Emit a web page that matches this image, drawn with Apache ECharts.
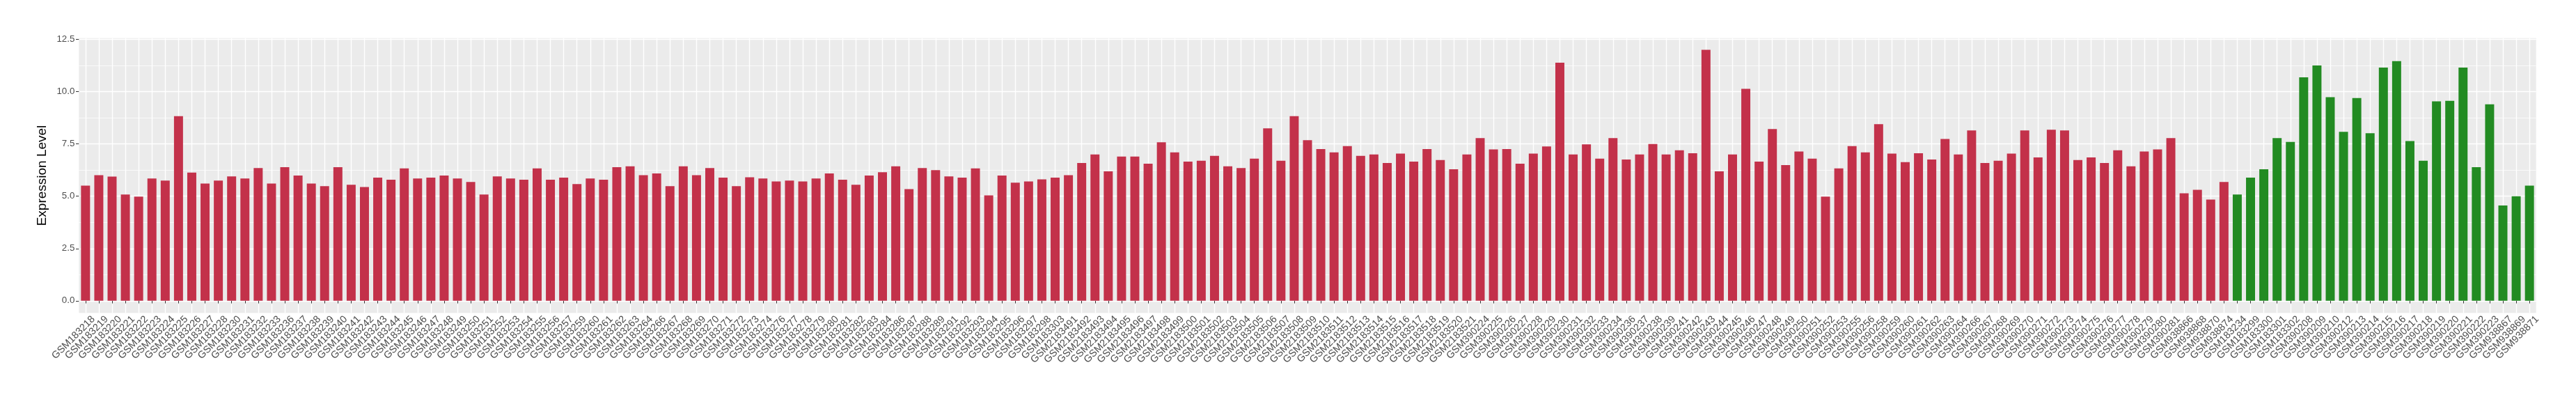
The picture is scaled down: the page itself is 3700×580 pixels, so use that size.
<!DOCTYPE html>
<html>
<head>
<meta charset="utf-8">
<script src="https://cdn.jsdelivr.net/npm/echarts@6/dist/echarts.min.js"></script>
<style>
html,body{margin:0;padding:0;background:#fff;}
#chart{width:3700px;height:580px;}
</style>
</head>
<body>
<div id="chart"></div>
<script>
const redSamples = [
 'GSM183218','GSM183219','GSM183220','GSM183221','GSM183222','GSM183223','GSM183224','GSM183225','GSM183226','GSM183227',
 'GSM183228','GSM183230','GSM183231','GSM183232','GSM183233','GSM183236','GSM183237','GSM183238','GSM183239','GSM183240',
 'GSM183241','GSM183242','GSM183243','GSM183244','GSM183245','GSM183246','GSM183247','GSM183248','GSM183249','GSM183250',
 'GSM183251','GSM183252','GSM183253','GSM183254','GSM183255','GSM183256','GSM183257','GSM183259','GSM183260','GSM183261',
 'GSM183262','GSM183263','GSM183264','GSM183266','GSM183267','GSM183268','GSM183269','GSM183270','GSM183271','GSM183272',
 'GSM183273','GSM183274','GSM183276','GSM183277','GSM183278','GSM183279','GSM183280','GSM183281','GSM183282','GSM183283',
 'GSM183284','GSM183286','GSM183287','GSM183288','GSM183289','GSM183291','GSM183292','GSM183293','GSM183294','GSM183295',
 'GSM183296','GSM183297','GSM183298','GSM183303','GSM2183491','GSM2183492','GSM2183493','GSM2183494','GSM2183495','GSM2183496',
 'GSM2183497','GSM2183498','GSM2183499','GSM2183500','GSM2183501','GSM2183502','GSM2183503','GSM2183504','GSM2183505','GSM2183506',
 'GSM2183507','GSM2183508','GSM2183509','GSM2183510','GSM2183511','GSM2183512','GSM2183513','GSM2183514','GSM2183515','GSM2183516',
 'GSM2183517','GSM2183518','GSM2183519','GSM2183520','GSM2183521','GSM390224','GSM390225','GSM390226','GSM390227','GSM390228',
 'GSM390229','GSM390230','GSM390231','GSM390232','GSM390233','GSM390234','GSM390236','GSM390237','GSM390238','GSM390239',
 'GSM390241','GSM390242','GSM390243','GSM390244','GSM390245','GSM390246','GSM390247','GSM390248','GSM390249','GSM390250',
 'GSM390251','GSM390252','GSM390253','GSM390255','GSM390256','GSM390258','GSM390259','GSM390260','GSM390261','GSM390262',
 'GSM390263','GSM390264','GSM390266','GSM390267','GSM390268','GSM390269','GSM390270','GSM390271','GSM390272','GSM390273',
 'GSM390274','GSM390275','GSM390276','GSM390277','GSM390278','GSM390279','GSM390280','GSM390281','GSM938866','GSM938868',
 'GSM938870','GSM938874'
];
const redValues = [
 5.51,6.01,5.94,5.08,4.98,5.85,5.75,8.83,6.13,5.61,
 5.75,5.95,5.85,6.35,5.61,6.39,5.99,5.61,5.48,6.39,
 5.55,5.44,5.89,5.79,6.33,5.85,5.89,5.99,5.85,5.68,
 5.08,5.95,5.85,5.79,6.33,5.79,5.89,5.58,5.85,5.79,
 6.39,6.43,6.01,6.09,5.48,6.43,6.01,6.35,5.89,5.48,
 5.91,5.85,5.71,5.75,5.71,5.85,6.09,5.79,5.55,5.99,
 6.15,6.43,5.34,6.35,6.25,5.95,5.89,6.33,5.04,5.99,
 5.65,5.71,5.81,5.89,6.01,6.59,7.00,6.19,6.90,6.90,
 6.56,7.58,7.10,6.66,6.70,6.93,6.43,6.35,6.80,8.25,
 6.70,8.83,7.68,7.26,7.10,7.40,6.93,7.00,6.59,7.04,
 6.66,7.26,6.73,6.29,7.00,7.78,7.24,7.26,6.56,7.04,
 7.38,11.39,7.00,7.48,6.80,7.78,6.76,7.00,7.50,7.00,
 7.20,7.06,12.00,6.19,7.00,10.14,6.66,8.21,6.49,7.14,
 6.80,4.98,6.33,7.40,7.10,8.45,7.04,6.63,7.06,6.76,
 7.74,7.00,8.15,6.59,6.70,7.04,8.15,6.86,8.18,8.15,
 6.73,6.86,6.59,7.20,6.43,7.14,7.24,7.78,5.14,5.31,
 4.84,5.68
];
const greenSamples = [
 'GSM183234','GSM183299','GSM183300','GSM183301','GSM183302','GSM390208','GSM390209','GSM390210','GSM390212','GSM390213',
 'GSM390214','GSM390215','GSM390216','GSM390217','GSM390218','GSM390219','GSM390220','GSM390221','GSM390222','GSM390223',
 'GSM938867','GSM938869','GSM938871'
];
const greenValues = [
 5.08,5.89,6.29,7.78,7.60,10.69,11.25,9.74,8.08,9.70,
 8.01,11.15,11.46,7.64,6.70,9.54,9.56,11.15,6.39,9.40,
 4.56,5.00,5.51
];
const yTicks = [0, 2.5, 5, 7.5, 10, 12.5];
const yMinorTicks = [1.25, 3.75, 6.25, 8.75, 11.25];
const yTitle = 'Expression Level';

const categories = redSamples.concat(greenSamples);
const redData = redValues.concat(greenSamples.map(() => '-'));
const greenData = redSamples.map(() => '-').concat(greenValues);

const FONT = "'Liberation Sans', Arial, Helvetica, sans-serif";
const Y_MIN = -0.58, Y_MAX = 12.56;
const gridBase = {left: 113.3, top: 54.8, width: 3529.4, height: 394.4};

const chart = echarts.init(document.getElementById('chart'), null, {renderer: 'canvas'});
chart.setOption({
  animation: false,
  backgroundColor: '#ffffff',
  grid: [
    Object.assign({show: true, backgroundColor: '#EBEBEB', borderWidth: 0, containLabel: false}, gridBase),
    Object.assign({show: false, containLabel: false}, gridBase, {left: gridBase.left + 6.3})
  ],
  xAxis: [
    {
      type: 'category', gridIndex: 0, data: categories, boundaryGap: true,
      axisLine: {show: false},
      axisTick: {show: true, alignWithLabel: true, length: 3.8, lineStyle: {color: '#333333', width: 1}},
      axisLabel: {show: false, interval: 0},
      splitLine: {show: true, alignWithLabel: true, interval: 0, lineStyle: {color: '#ffffff', width: 1.4}}
    },
    {
      type: 'category', gridIndex: 1, data: categories, boundaryGap: true,
      axisLine: {show: false}, axisTick: {show: false}, splitLine: {show: false},
      axisLabel: {
        show: true, interval: 0, rotate: 45, align: 'right', verticalAlign: 'top', margin: 2,
        color: '#4D4D4D', fontSize: 14.4, fontFamily: FONT
      }
    }
  ],
  yAxis: [
    {
      type: 'value', gridIndex: 0, min: Y_MIN, max: Y_MAX, position: 'left',
      name: yTitle, nameLocation: 'middle', nameRotate: 90, nameGap: 37.5,
      nameTextStyle: {color: '#000000', fontSize: 19, fontFamily: FONT},
      axisLine: {show: false},
      axisTick: {show: true, length: 4.3, customValues: yTicks, lineStyle: {color: '#333333', width: 1}},
      axisLabel: {show: true, customValues: yTicks, margin: 6, color: '#4D4D4D', fontSize: 13.3, fontFamily: FONT,
                  formatter: v => Number(v).toFixed(1)},
      splitLine: {show: true, lineStyle: {color: '#ffffff', width: 1.4}}
    },
    {
      type: 'value', gridIndex: 0, min: Y_MIN, max: Y_MAX, position: 'left',
      axisLine: {show: false},
      axisTick: {show: false, customValues: yMinorTicks},
      axisLabel: {show: false, customValues: yMinorTicks},
      splitLine: {show: true, lineStyle: {color: '#ffffff', width: 0.7}}
    },
    {
      type: 'value', gridIndex: 1, min: Y_MIN, max: Y_MAX, show: false
    }
  ],
  series: [
    {
      type: 'bar', name: 'group1', xAxisIndex: 0, yAxisIndex: 0, stack: 'all',
      data: redData, barWidth: '68%', itemStyle: {color: '#C3314A'}
    },
    {
      type: 'bar', name: 'group2', xAxisIndex: 0, yAxisIndex: 0, stack: 'all',
      data: greenData, barWidth: '68%', itemStyle: {color: '#228B22'}
    }
  ]
});
</script>
</body>
</html>
